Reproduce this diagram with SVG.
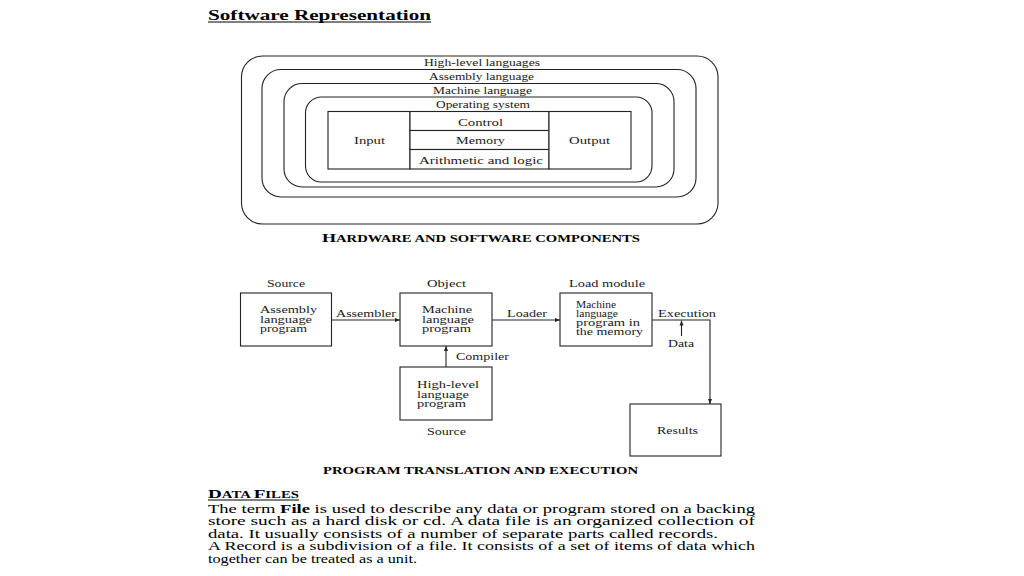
<svg xmlns="http://www.w3.org/2000/svg" width="1024" height="576" viewBox="0 0 1024 576">
<style>
  .bg{fill:#ffffff}
  .ln{fill:none;stroke:#222;stroke-width:1.1}
  .box{fill:#ffffff;stroke:#222;stroke-width:1.1}
  .lb{font-family:"Liberation Serif","Times New Roman",serif;font-size:10.5px;fill:#1a1a1a}
  .rl{font-family:"Liberation Serif","Times New Roman",serif;font-size:10.5px;fill:#1a1a1a}
  .bt{font-family:"Liberation Serif","Times New Roman",serif;font-size:10px;fill:#1a1a1a}
  .body{font-family:"Liberation Serif","Times New Roman",serif;font-size:13px;fill:#000}
  .hd{font-family:"Liberation Serif","Times New Roman",serif;font-weight:bold;fill:#000}
</style>
<defs>
  <marker id="ah" viewBox="0 0 10 10" refX="10" refY="5" markerWidth="5" markerHeight="5" orient="auto" markerUnits="userSpaceOnUse">
    <path d="M0,1 L10,5 L0,9 z" fill="#222"/>
  </marker>
</defs>
<rect class="bg" x="0" y="0" width="1024" height="576"/>

<g id="title">
  <text class="hd" x="208" y="20" font-size="15.5" textLength="223" lengthAdjust="spacingAndGlyphs">Software Representation</text>
  <line x1="208" y1="22" x2="431" y2="22" stroke="#000" stroke-width="1.2"/>
</g>

<!-- Hardware and software components -->
<g id="ring-high-level">
  <rect class="box" x="241.5" y="56" width="476.5" height="168" rx="21" ry="21"/>
  <text class="rl" x="424" y="65.5" textLength="116" lengthAdjust="spacingAndGlyphs">High-level languages</text>
</g>
<g id="ring-assembly">
  <rect class="box" x="262" y="69.5" width="434" height="127.5" rx="19" ry="19"/>
  <text class="rl" x="429" y="79.5" textLength="105" lengthAdjust="spacingAndGlyphs">Assembly language</text>
</g>
<g id="ring-machine">
  <rect class="box" x="284" y="83.5" width="390" height="103.5" rx="18" ry="18"/>
  <text class="rl" x="433" y="93.5" textLength="99" lengthAdjust="spacingAndGlyphs">Machine language</text>
</g>
<g id="ring-os">
  <rect class="box" x="305.5" y="97" width="346.5" height="85" rx="16" ry="16"/>
  <text class="rl" x="436" y="107.5" textLength="94" lengthAdjust="spacingAndGlyphs">Operating system</text>
</g>
<g id="hw-input">
  <rect class="box" x="328" y="111.5" width="82" height="57.5"/>
  <text class="rl" x="354" y="143.5" textLength="31" lengthAdjust="spacingAndGlyphs">Input</text>
</g>
<g id="hw-control">
  <rect class="box" x="410" y="111.5" width="139" height="19"/>
  <text class="rl" x="458" y="126" textLength="45" lengthAdjust="spacingAndGlyphs">Control</text>
</g>
<g id="hw-memory">
  <rect class="box" x="410" y="130.5" width="139" height="19"/>
  <text class="rl" x="456" y="144" textLength="49" lengthAdjust="spacingAndGlyphs">Memory</text>
</g>
<g id="hw-alu">
  <rect class="box" x="410" y="149.5" width="139" height="19.5"/>
  <text class="rl" x="419" y="164" textLength="124" lengthAdjust="spacingAndGlyphs">Arithmetic and logic</text>
</g>
<g id="hw-output">
  <rect class="box" x="549" y="111.5" width="82" height="57.5"/>
  <text class="rl" x="569" y="143.5" textLength="41" lengthAdjust="spacingAndGlyphs">Output</text>
</g>
<g id="caption-hw">
  <text class="hd" x="322" y="242" font-size="10.5" textLength="318" lengthAdjust="spacingAndGlyphs"><tspan font-size="13">H</tspan>ARDWARE AND SOFTWARE COMPONENTS</text>
</g>

<!-- Program translation and execution -->
<g id="n-assembly">
  <text class="lb" x="267" y="287" textLength="38" lengthAdjust="spacingAndGlyphs">Source</text>
  <rect class="box" x="240.5" y="293" width="91" height="53"/>
  <text class="bt" x="260" y="313" textLength="57" lengthAdjust="spacingAndGlyphs">Assembly</text>
  <text class="bt" x="260" y="322.5" textLength="52" lengthAdjust="spacingAndGlyphs">language</text>
  <text class="bt" x="260" y="332" textLength="47" lengthAdjust="spacingAndGlyphs">program</text>
</g>
<g id="n-object">
  <text class="lb" x="427" y="287" textLength="39" lengthAdjust="spacingAndGlyphs">Object</text>
  <rect class="box" x="400" y="293" width="92" height="53"/>
  <text class="bt" x="422" y="313" textLength="50" lengthAdjust="spacingAndGlyphs">Machine</text>
  <text class="bt" x="422" y="322.5" textLength="52" lengthAdjust="spacingAndGlyphs">language</text>
  <text class="bt" x="422" y="332" textLength="49" lengthAdjust="spacingAndGlyphs">program</text>
</g>
<g id="n-load">
  <text class="lb" x="569" y="287" textLength="76" lengthAdjust="spacingAndGlyphs">Load module</text>
  <rect class="box" x="560" y="293" width="92" height="53"/>
  <text class="bt" x="576" y="307.5" textLength="40" lengthAdjust="spacingAndGlyphs">Machine</text>
  <text class="bt" x="576" y="316.5" textLength="42" lengthAdjust="spacingAndGlyphs">language</text>
  <text class="bt" x="576" y="326" textLength="64" lengthAdjust="spacingAndGlyphs">program in</text>
  <text class="bt" x="576" y="335" textLength="67" lengthAdjust="spacingAndGlyphs">the memory</text>
</g>
<g id="n-highlevel">
  <rect class="box" x="400" y="367" width="92" height="53"/>
  <text class="bt" x="417" y="388" textLength="62" lengthAdjust="spacingAndGlyphs">High-level</text>
  <text class="bt" x="417" y="397.5" textLength="52" lengthAdjust="spacingAndGlyphs">language</text>
  <text class="bt" x="417" y="407" textLength="49" lengthAdjust="spacingAndGlyphs">program</text>
  <text class="lb" x="427" y="434.5" textLength="39" lengthAdjust="spacingAndGlyphs">Source</text>
</g>
<g id="n-results">
  <rect class="box" x="630" y="404" width="91" height="52"/>
  <text class="lb" x="657" y="433.5" textLength="41" lengthAdjust="spacingAndGlyphs">Results</text>
</g>

<g id="connectors">
  <line class="ln" x1="331.5" y1="320" x2="400" y2="320" marker-end="url(#ah)"/>
  <text class="lb" x="336" y="316.5" textLength="60" lengthAdjust="spacingAndGlyphs">Assembler</text>
  <line class="ln" x1="492" y1="320" x2="560" y2="320" marker-end="url(#ah)"/>
  <text class="lb" x="507" y="316.5" textLength="40" lengthAdjust="spacingAndGlyphs">Loader</text>
  <polyline class="ln" points="652,320 710,320 710,404" marker-end="url(#ah)"/>
  <text class="lb" x="658" y="316.5" textLength="58" lengthAdjust="spacingAndGlyphs">Execution</text>
  <line class="ln" x1="681.5" y1="336" x2="681.5" y2="320.5" marker-end="url(#ah)"/>
  <text class="lb" x="668" y="347" textLength="26" lengthAdjust="spacingAndGlyphs">Data</text>
  <line class="ln" x1="446" y1="367" x2="446" y2="346" marker-end="url(#ah)"/>
  <text class="lb" x="456" y="360" textLength="53" lengthAdjust="spacingAndGlyphs">Compiler</text>
</g>

<g id="caption-prog">
  <text class="hd" x="323" y="473.5" font-size="10.5" textLength="315" lengthAdjust="spacingAndGlyphs">PROGRAM  TRANSLATION AND EXECUTION</text>
</g>

<g id="data-files">
  <text class="hd" x="208" y="498" font-size="10" textLength="91" lengthAdjust="spacingAndGlyphs"><tspan font-size="13">D</tspan>ATA <tspan font-size="13">F</tspan>ILES</text>
  <line x1="208" y1="500" x2="299" y2="500" stroke="#000" stroke-width="1"/>
  <text class="body" x="208" y="512.5" textLength="547" lengthAdjust="spacingAndGlyphs">The term <tspan font-weight="bold">File</tspan> is used to describe any data or program stored on a backing</text>
  <text class="body" x="208" y="525" textLength="547" lengthAdjust="spacingAndGlyphs">store such as a hard disk or cd. A data file is an organized collection of</text>
  <text class="body" x="208" y="537.5" textLength="510" lengthAdjust="spacingAndGlyphs">data. It usually consists of a number of separate parts called records.</text>
  <text class="body" x="208" y="550" textLength="547" lengthAdjust="spacingAndGlyphs">A Record is a subdivision of a file. It consists of a set of items of data which</text>
  <text class="body" x="208" y="562.5" textLength="209" lengthAdjust="spacingAndGlyphs">together can be treated as a unit.</text>
</g>
</svg>
